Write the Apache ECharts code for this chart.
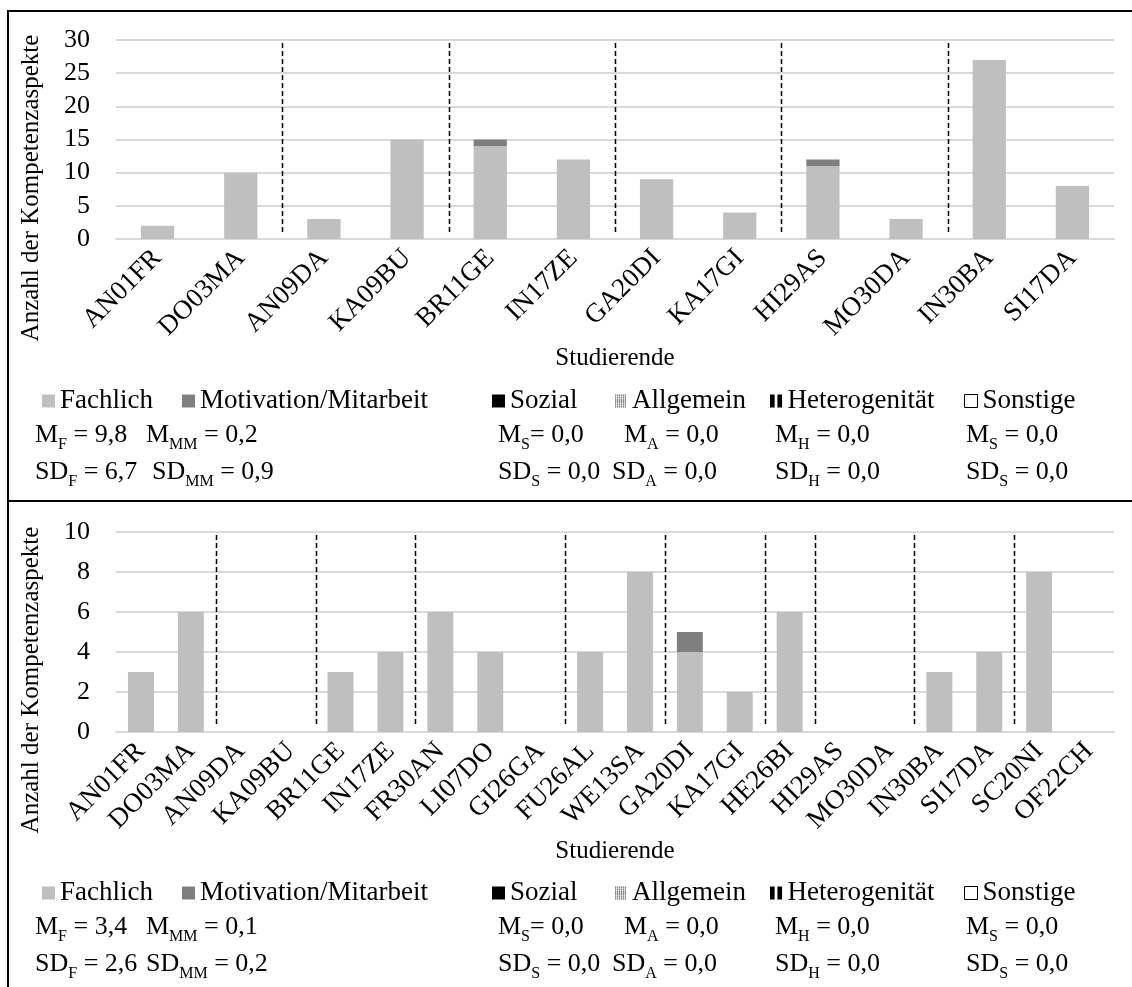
<!DOCTYPE html>
<html>
<head>
<meta charset="utf-8">
<script src="https://cdn.jsdelivr.net/npm/echarts@6/dist/echarts.min.js"></script>
<style>
html,body{margin:0;padding:0;background:#fff;}
#chart{width:1132px;height:987px;}
</style>
</head>
<body>
<div id="chart"></div>
<script>
// ---------- data ----------
const topCategories = ['AN01FR','DO03MA','AN09DA','KA09BU','BR11GE','IN17ZE','GA20DI','KA17GI','HI29AS','MO30DA','IN30BA','SI17DA'];
const topFachlich   = [2,10,3,15,14,12,9,4,11,3,27,8];
const topMotivation = [0,0,0,0,1,0,0,0,1,0,0,0];
const topSeparators = [1,3,5,7,9];          // dashed line after these category indices

const bottomCategories = ['AN01FR','DO03MA','AN09DA','KA09BU','BR11GE','IN17ZE','FR30AN','LI07DO','GI26GA','FU26AL','WE13SA','GA20DI','KA17GI','HE26BI','HI29AS','MO30DA','IN30BA','SI17DA','SC20NI','OF22CH'];
const bottomFachlich   = [3,6,0,0,3,4,6,4,0,4,8,4,2,6,0,0,3,4,8,0];
const bottomMotivation = [0,0,0,0,0,0,0,0,0,0,0,1,0,0,0,0,0,0,0,0];
const bottomSeparators = [1,3,5,8,10,12,13,15,17];

const topYTicks = [0,30,5];      // min, max, interval
const bottomYTicks = [0,10,2];

const legendNames = ['Fachlich','Motivation/Mitarbeit','Sozial','Allgemein','Heterogenität','Sonstige'];
const statSubs = ['F','MM','S','A','H','S'];
const topMeans = ['9,8','0,2','0,0','0,0','0,0','0,0'];
const topSDs   = ['6,7','0,9','0,0','0,0','0,0','0,0'];
const bottomMeans = ['3,4','0,1','0,0','0,0','0,0','0,0'];
const bottomSDs   = ['2,6','0,2','0,0','0,0','0,0','0,0'];
const meanEq = [' = ',' = ','= ',' = ',' = ',' = '];

const xAxisTitle = 'Studierende';
const yAxisTitle = 'Anzahl der Kompetenzaspekte';

// ---------- layout / style ----------
const FONT = 'Liberation Serif';
const FS = 25;
const LFS = 27;
const SFS = 26;
const panelOffset = 492;
const gridTop = [40, 532];
const gridHeight = [199, 200];
const legendX = [42, 182, 492, 615, 770, 964];
const meanX = [35, 146, 498, 624, 775, 966];
const sdX   = [[35, 152, 498, 612, 775, 966],[35, 146, 498, 612, 775, 966]];
const legendCY = [401, 401 + panelOffset];
const meanCY = [438, 438 + panelOffset];
const sdCY = [475, 475 + panelOffset];
const yTitlePos = [[31,188],[31,188 + panelOffset]];

const colors = {
  'Fachlich':'#BFBFBF',
  'Motivation/Mitarbeit':'#7F7F7F',
  'Sozial':'#000000',
  'Allgemein':'#666666',
  'Heterogenität':'#000000',
  'Sonstige':'#FFFFFF'
};

let dots = '';
for (let i = 0; i < 6; i++) for (let j = 0; j < 7; j++) dots += 'M' + (2*i) + ',' + (2*j) + 'h1.3v1.3h-1.3z';
const icons = {
  'Fachlich':'rect',
  'Motivation/Mitarbeit':'rect',
  'Sozial':'rect',
  'Allgemein':'path://' + dots,
  'Heterogenität':'path://M0,0H5V14H0Z M8,0H13V14H8Z',
  'Sonstige':'rect'
};

const chart = echarts.init(document.getElementById('chart'), null, {renderer:'canvas'});

function sepSeries(idx, seps, ymax) {
  return {
    type:'custom', xAxisIndex: idx, yAxisIndex: idx, silent:true, z:5,
    data: seps.map(s => [s, 0]),
    encode:{x:0, y:1},
    renderItem: function(params, api) {
      const c = api.value(0);
      const pTop = api.coord([c, ymax]);
      const pBot = api.coord([c, 0]);
      const half = api.size([1, 0])[0] / 2;
      const x = Math.round(pTop[0] + half) + 0.5;
      return {type:'line', shape:{x1:x, y1:pTop[1] + 3, x2:x, y2:pBot[1] - 5},
              style:{stroke:'#000', lineWidth:1.5, lineDash:[5,3]}};
    }
  };
}

const series = [];
function panelSeries(idx, fach, mm, seps, ymax, bw) {
  series.push({name:'Fachlich', type:'bar', stack:'s'+idx, xAxisIndex:idx, yAxisIndex:idx,
    barWidth:bw, data:fach, itemStyle:{color:colors['Fachlich']}});
  series.push({name:'Motivation/Mitarbeit', type:'bar', stack:'s'+idx, xAxisIndex:idx, yAxisIndex:idx,
    barWidth:bw, data:mm, itemStyle:{color:colors['Motivation/Mitarbeit']}});
  ['Sozial','Allgemein','Heterogenität','Sonstige'].forEach(n => {
    series.push({name:n, type:'bar', stack:'s'+idx, xAxisIndex:idx, yAxisIndex:idx, data:[],
      itemStyle:{color:colors[n], borderColor:'#000'}});
  });
  series.push(sepSeries(idx, seps, ymax));
}
panelSeries(0, topFachlich, topMotivation, topSeparators, topYTicks[1], '40%');
panelSeries(1, bottomFachlich, bottomMotivation, bottomSeparators, bottomYTicks[1], '52%');

function xAxisCfg(idx, cats) {
  return {
    type:'category', gridIndex:idx, data:cats,
    axisLine:{show:true, lineStyle:{color:'#D9D9D9', width:2}},
    axisTick:{show:false},
    axisLabel:{interval:0, rotate:45, margin:15, color:'#000', fontFamily:FONT, fontSize:27},
    name:xAxisTitle, nameLocation:'middle', nameGap:107,
    nameTextStyle:{color:'#000', fontFamily:FONT, fontSize:FS}
  };
}
function yAxisCfg(idx, t) {
  return {
    type:'value', gridIndex:idx, min:t[0], max:t[1], interval:t[2],
    axisLine:{show:false}, axisTick:{show:false},
    splitLine:{lineStyle:{color:'#D9D9D9', width:2}},
    axisLabel:{margin:26, color:'#000', fontFamily:FONT, fontSize:26}
  };
}

const legends = [];
[0,1].forEach(p => {
  legendNames.forEach((n, i) => {
    const item = {name:n, icon:icons[n]};
    if (n === 'Sonstige') item.itemStyle = {color:'#fff', borderColor:'#000', borderWidth:1};
    legends.push({
      data:[item], left:legendX[i], top:legendCY[p] - 15, padding:0,
      itemWidth:13, itemHeight:13, selectedMode:false,
      textStyle:{color:'#000', fontFamily:FONT, fontSize:LFS, lineHeight:30}
    });
  });
});

const rich = {
  n:{fontFamily:FONT, fontSize:SFS, lineHeight:32, verticalAlign:'top', fill:'#000', color:'#000'},
  s:{fontFamily:FONT, fontSize:16, lineHeight:16, padding:[15,0,0,0], verticalAlign:'top', fill:'#000', color:'#000'}
};
const graphics = [];
function statText(x, y, pre, sub, eq, val) {
  graphics.push({type:'text', x:x, y:y, silent:true,
    style:{text:'{n|' + pre + '}{s|' + sub + '}{n|' + eq + val + '}', rich:rich,
           verticalAlign:'middle', align:'left', fill:'#000', font: SFS + 'px ' + FONT}});
}
[[topMeans, topSDs],[bottomMeans, bottomSDs]].forEach((pair, p) => {
  statSubs.forEach((s, i) => {
    statText(meanX[i], meanCY[p], 'M', s, meanEq[i], pair[0][i]);
    statText(sdX[p][i], sdCY[p], 'SD', s, ' = ', pair[1][i]);
  });
  graphics.push({type:'text', x:yTitlePos[p][0], y:yTitlePos[p][1], rotation:Math.PI/2, silent:true,
    style:{text:yAxisTitle, align:'center', verticalAlign:'middle', fill:'#000', font: FS + 'px ' + FONT}});
});
// panel frame
graphics.push({type:'line', shape:{x1:7, y1:11, x2:1132, y2:11}, style:{stroke:'#000', lineWidth:2}, silent:true});
graphics.push({type:'line', shape:{x1:8, y1:10, x2:8, y2:987}, style:{stroke:'#000', lineWidth:2}, silent:true});
graphics.push({type:'line', shape:{x1:7, y1:501, x2:1132, y2:501}, style:{stroke:'#000', lineWidth:2}, silent:true});

chart.setOption({
  animation:false,
  backgroundColor:'#fff',
  grid:[
    {left:116, right:18, top:gridTop[0], height:gridHeight[0]},
    {left:116, right:18, top:gridTop[1], height:gridHeight[1]}
  ],
  xAxis:[xAxisCfg(0, topCategories), xAxisCfg(1, bottomCategories)],
  yAxis:[yAxisCfg(0, topYTicks), yAxisCfg(1, bottomYTicks)],
  legend:legends,
  series:series,
  graphic:graphics
});
</script>
</body>
</html>
